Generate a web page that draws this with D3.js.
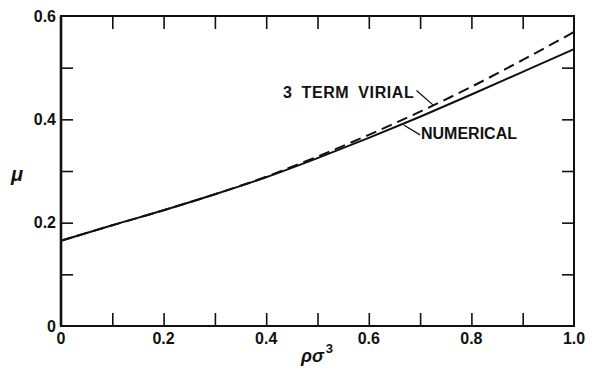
<!DOCTYPE html>
<html>
<head>
<meta charset="utf-8">
<script src="https://cdn.jsdelivr.net/npm/d3@7"></script>
<style>
  body { margin: 0; background: #fff; }
  svg text { font-family: "Liberation Sans", Arial, sans-serif; font-weight: bold; fill: #111; }
</style>
</head>
<body>
<div id="chart"></div>
<script>
// values
const density = [0, 0.1, 0.2, 0.3, 0.4, 0.5, 0.6, 0.7, 0.8, 0.9, 1.0];
const numerical = [0.165, 0.195, 0.224, 0.255, 0.288, 0.325, 0.364, 0.405, 0.448, 0.492, 0.536];
const virial = [0.165, 0.195, 0.224, 0.255, 0.289, 0.328, 0.370, 0.415, 0.463, 0.515, 0.569];
const xTickLabels = ["0", "0.2", "0.4", "0.6", "0.8", "1.0"];
const yTickLabels = ["0", "0.2", "0.4", "0.6"];

const width = 594, height = 370;
const margin = { top: 16, right: 20, bottom: 44, left: 61 };
const iw = width - margin.left - margin.right;
const ih = height - margin.top - margin.bottom;

const svg = d3.select("#chart").append("svg")
  .attr("width", width)
  .attr("height", height);

const g = svg.append("g").attr("transform", `translate(${margin.left},${margin.top})`);

const x = d3.scaleLinear().domain([0, 1]).range([0, iw]);
const y = d3.scaleLinear().domain([0, 0.6]).range([ih, 0]);

const minorX = d3.range(1, 10).map(i => i / 10);
const minorY = d3.range(1, 6).map(i => i / 10);
const tickLen = 13;

// inward ticks on all four sides
g.append("g").attr("transform", `translate(0,${ih})`)
  .call(d3.axisTop(x).tickValues(minorX).tickSize(tickLen).tickFormat(""));
g.append("g")
  .call(d3.axisBottom(x).tickValues(minorX).tickSize(tickLen).tickFormat(""));
g.append("g")
  .call(d3.axisRight(y).tickValues(minorY).tickSize(12).tickFormat(""));
g.append("g").attr("transform", `translate(${iw},0)`)
  .call(d3.axisLeft(y).tickValues(minorY).tickSize(12).tickFormat(""));

g.selectAll(".domain").remove();
g.selectAll(".tick line").attr("stroke", "#111").attr("stroke-width", 1.6);

// frame
g.append("rect")
  .attr("width", iw).attr("height", ih)
  .attr("fill", "none").attr("stroke", "#111").attr("stroke-width", 2);
g.append("line")
  .attr("x1", 0).attr("x2", 0).attr("y1", 0).attr("y2", ih)
  .attr("stroke", "#111").attr("stroke-width", 2.6);

// tick labels
g.append("g").selectAll("text")
  .data(xTickLabels)
  .enter().append("text")
  .attr("x", d => x(+d))
  .attr("y", ih + 18)
  .attr("text-anchor", "middle")
  .attr("font-size", "16px")
  .text(d => d);

g.append("g").selectAll("text")
  .data(yTickLabels)
  .enter().append("text")
  .attr("x", -5)
  .attr("y", d => y(+d))
  .attr("dy", "0.35em")
  .attr("text-anchor", "end")
  .attr("font-size", "16px")
  .text(d => d);

// axis titles
const xt = svg.append("text")
  .attr("x", 301)
  .attr("y", 362)
  .attr("font-size", "18px")
  .attr("font-style", "italic");
xt.append("tspan").text("ρσ");
xt.append("tspan").attr("dy", -9).attr("dx", 2).attr("font-size", "13px").attr("font-style", "normal").text("3");

svg.append("text")
  .attr("x", 11)
  .attr("y", 181)
  .attr("font-size", "20px")
  .attr("font-style", "italic")
  .text("μ");

// curves
const line = d3.line().curve(d3.curveMonotoneX);

g.append("path")
  .attr("d", line(density.map((d, i) => [x(d), y(virial[i])])))
  .attr("fill", "none").attr("stroke", "#111").attr("stroke-width", 2)
  .attr("stroke-dasharray", "11,6");

g.append("path")
  .attr("d", line(density.map((d, i) => [x(d), y(numerical[i])])))
  .attr("fill", "none").attr("stroke", "#111").attr("stroke-width", 2);

// labels with leader lines
g.append("text")
  .attr("x", 283 - margin.left)
  .attr("y", 98 - margin.top)
  .attr("font-size", "16px")
  .attr("letter-spacing", "0.6px")
  .attr("word-spacing", "4px")
  .text("3 TERM VIRIAL");
g.append("path")
  .attr("d", d3.line()([[x(0.693), y(0.456)], [x(0.725), y(0.428)]]))
  .attr("stroke", "#111").attr("stroke-width", 1.3).attr("fill", "none");

g.append("text")
  .attr("x", 421 - margin.left)
  .attr("y", 139 - margin.top)
  .attr("font-size", "16px")
  .text("NUMERICAL");
g.append("path")
  .attr("d", d3.line()([[x(0.668), y(0.389)], [x(0.700), y(0.370)]]))
  .attr("stroke", "#111").attr("stroke-width", 1.3).attr("fill", "none");
</script>
</body>
</html>
